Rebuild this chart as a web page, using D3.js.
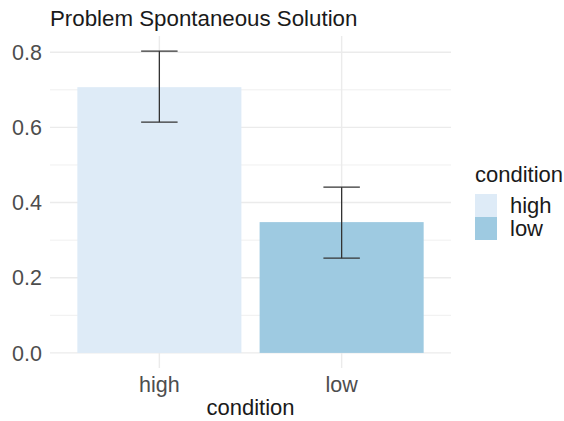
<!DOCTYPE html>
<html><head><meta charset="utf-8">
<script src="https://cdn.jsdelivr.net/npm/d3@7"></script>
<style>body{margin:0;background:#fff}svg{display:block}text{font-family:"Liberation Sans",Arial,sans-serif}</style>
</head><body>
<svg id="c" width="564" height="421"></svg>
<script>
const categories = ["high", "low"];
const means = [0.707, 0.348];
const lower = [0.614, 0.252];
const upper = [0.803, 0.441];
const yTicks = [0.0, 0.2, 0.4, 0.6, 0.8];
const yMinor = [0.1, 0.3, 0.5, 0.7];
const colors = ["#DEEBF7", "#9ECAE1"];
const title = "Problem Spontaneous Solution";
const xTitle = "condition";
const legendTitle = "condition";

const svg = d3.select("#c");
const L = 50, R = 451, T = 36, B = 368;
const ymax = d3.max(upper), pad = ymax * 0.05;
const y = d3.scaleLinear().domain([-pad, ymax + pad]).range([B, T]);
// ggplot-like discrete scale: 0.6 unit expansion each side
const x = d3.scalePoint().domain(categories).range([L, R]).padding(0.6);
const unit = x.step();
const color = d3.scaleOrdinal().domain(categories).range(colors);

const g = svg.append("g");
g.selectAll(".minor").data(yMinor).enter().append("line")
  .attr("x1", L).attr("x2", R).attr("y1", d => y(d)).attr("y2", d => y(d))
  .attr("stroke", "#ebebeb").attr("stroke-width", 0.8);
g.selectAll(".major").data(yTicks).enter().append("line")
  .attr("x1", L).attr("x2", R).attr("y1", d => y(d)).attr("y2", d => y(d))
  .attr("stroke", "#ebebeb").attr("stroke-width", 1.4);
g.selectAll(".vmajor").data(categories).enter().append("line")
  .attr("x1", d => x(d)).attr("x2", d => x(d)).attr("y1", T).attr("y2", B)
  .attr("stroke", "#ebebeb").attr("stroke-width", 1.4);

// bars
const bw = unit * 0.9;
g.selectAll(".bar").data(categories).enter().append("rect")
  .attr("x", d => x(d) - bw / 2).attr("width", bw)
  .attr("y", (d, i) => y(means[i])).attr("height", (d, i) => y(0) - y(means[i]))
  .attr("fill", d => color(d));

// error bars
const ew = unit * 0.2;
categories.forEach((c, i) => {
  const e = g.append("g").attr("stroke", "#333333").attr("stroke-width", 1.3).attr("fill", "none");
  e.append("line").attr("x1", x(c)).attr("x2", x(c)).attr("y1", y(upper[i])).attr("y2", y(lower[i]));
  e.append("line").attr("x1", x(c) - ew / 2).attr("x2", x(c) + ew / 2).attr("y1", y(upper[i])).attr("y2", y(upper[i]));
  e.append("line").attr("x1", x(c) - ew / 2).attr("x2", x(c) + ew / 2).attr("y1", y(lower[i])).attr("y2", y(lower[i]));
});

// y tick labels
g.selectAll(".yt").data(yTicks).enter().append("text")
  .attr("x", 42).attr("y", d => y(d)).attr("dy", "0.36em")
  .attr("text-anchor", "end").attr("font-size", 21.5).attr("fill", "#4D4D4D")
  .text(d => d3.format(".1f")(d));
// x tick labels
g.selectAll(".xt").data(categories).enter().append("text")
  .attr("x", d => x(d)).attr("y", 392)
  .attr("text-anchor", "middle").attr("font-size", 21.5).attr("fill", "#4D4D4D")
  .text(d => d);
g.append("text").attr("x", (L + R) / 2).attr("y", 415).attr("text-anchor", "middle")
  .attr("font-size", 22).attr("fill", "#1a1a1a").text(xTitle);
g.append("text").attr("x", L).attr("y", 26).attr("font-size", 22.3).attr("fill", "#1a1a1a").text(title);

// legend
const lg = svg.append("g");
lg.append("text").attr("x", 475).attr("y", 182).attr("font-size", 22).attr("fill", "#1a1a1a").text(legendTitle);
categories.forEach((c, i) => {
  lg.append("rect").attr("x", 475).attr("y", 194 + i * 23).attr("width", 22).attr("height", 23).attr("fill", color(c));
  lg.append("text").attr("x", 510).attr("y", 213 + i * 23).attr("font-size", 22).attr("fill", "#1a1a1a").text(c);
});
</script>
</body></html>
